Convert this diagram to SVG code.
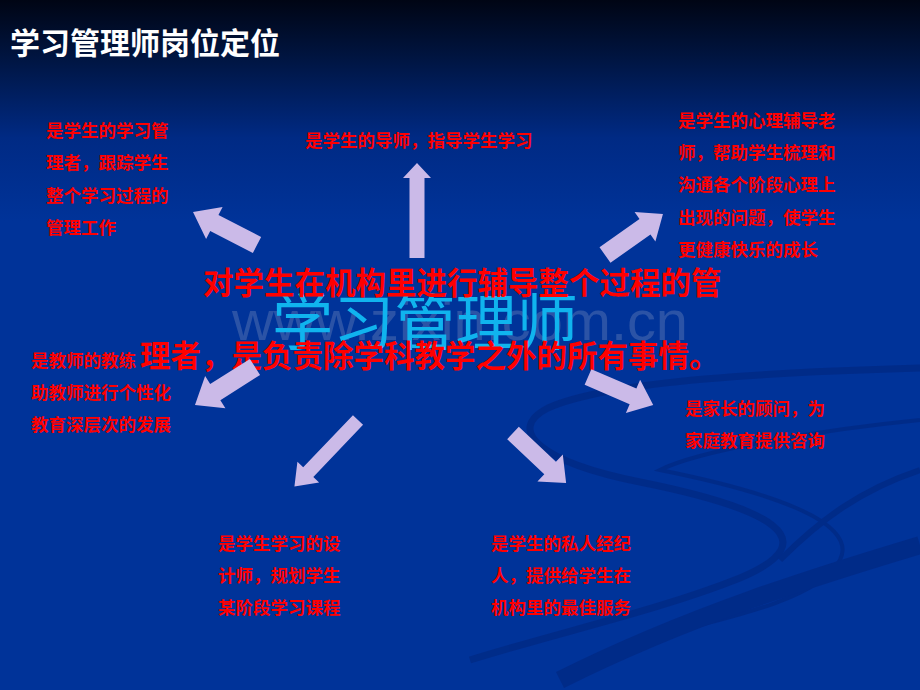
<svg xmlns="http://www.w3.org/2000/svg" width="920" height="690" viewBox="0 0 920 690">
<defs>
<linearGradient id="bg" x1="0" y1="0" x2="0" y2="1">
<stop offset="0" stop-color="#000514"/>
<stop offset="0.08" stop-color="#00143f"/>
<stop offset="0.2" stop-color="#002a84"/>
<stop offset="0.32" stop-color="#003399"/>
<stop offset="1" stop-color="#003399"/>
</linearGradient>
<style>
.t{font-family:"Noto Sans CJK SC","Noto Sans",sans-serif;font-weight:bold;fill:#ff0000;font-size:17.5px}
.big{font-family:"Noto Sans CJK SC","Noto Sans",sans-serif;font-weight:bold;fill:#ff0000;font-size:30.5px}
.arr{fill:#cbbae8}
.sw{fill:none;stroke:#002a85}
</style>
</defs>
<rect width="920" height="690" fill="url(#bg)"/>
<g id="swooshes" opacity="0.8">
<path class="sw" stroke-width="7" d="M920,368 C780,372 610,380 548,408 C505,430 540,462 640,482 C770,508 830,540 740,578 C660,610 560,632 470,660"/>
<path class="sw" stroke-width="4" d="M920,420 C820,430 700,450 660,470 C760,490 860,520 840,560 C820,600 720,620 640,640"/>
<path class="sw" stroke-width="18" d="M920,545 C820,575 690,615 560,680"/>
<path class="sw" stroke-width="6" d="M920,470 C860,490 820,520 780,560"/>
</g>
<text x="10" y="54" font-family="'Noto Sans CJK SC','Noto Sans',sans-serif" font-weight="bold" font-size="30" fill="#ffffff">学习管理师岗位定位</text>
<g id="node-top-left">
<text class="t" x="46" y="136.5">是学生的学习管</text>
<text class="t" x="46" y="169">理者，跟踪学生</text>
<text class="t" x="46" y="202">整个学习过程的</text>
<text class="t" x="46" y="234">管理工作</text>
</g>
<g id="node-top">
<text class="t" x="305" y="146.5">是学生的导师，指导学生学习</text>
</g>
<g id="node-top-right">
<text class="t" x="678" y="126.5">是学生的心理辅导老</text>
<text class="t" x="678" y="158.5">师，帮助学生梳理和</text>
<text class="t" x="678" y="191">沟通各个阶段心理上</text>
<text class="t" x="678" y="223.5">出现的问题，使学生</text>
<text class="t" x="678" y="255.5">更健康快乐的成长</text>
</g>
<g id="node-left">
<text class="t" x="31" y="366.5">是教师的教练</text>
<text class="t" x="31" y="398.5">助教师进行个性化</text>
<text class="t" x="31" y="430.5">教育深层次的发展</text>
</g>
<g id="node-right">
<text class="t" x="685" y="414.5">是家长的顾问，为</text>
<text class="t" x="685" y="446.5">家庭教育提供咨询</text>
</g>
<g id="node-bottom-left">
<text class="t" x="218" y="549.5">是学生学习的设</text>
<text class="t" x="218" y="581.5">计师，规划学生</text>
<text class="t" x="218" y="613.5">某阶段学习课程</text>
</g>
<g id="node-bottom-right">
<text class="t" x="491" y="549.5">是学生的私人经纪</text>
<text class="t" x="491" y="581.5">人，提供给学生在</text>
<text class="t" x="491" y="613.5">机构里的最佳服务</text>
</g>
<text x="232" y="340" font-family="'Liberation Sans',sans-serif" font-size="56" fill="#9aa8c8" fill-opacity="0.28" textLength="456" lengthAdjust="spacingAndGlyphs">www.zixin.com.cn</text>
<g id="center">
<text x="272" y="345" font-family="'Noto Sans CJK SC','Noto Sans',sans-serif" font-size="61" fill="#10b4ee" textLength="306" lengthAdjust="spacingAndGlyphs">学习管理师</text>
<text class="big" x="203" y="294">对学生在机构里进行辅导整个过程的管</text>
<text class="big" x="140" y="367">理者，是负责除学科教学之外的所有事情。</text>
</g>
<g id="connectors">
<polygon class="arr" transform="translate(257,245) rotate(207.3)" points="0,-9 48,-9 48,-18 72,0 48,18 48,9 0,9"/>
<polygon class="arr" transform="translate(417,258) rotate(-90)" points="0,-7.5 80,-7.5 80,-14 95,0 80,14 80,7.5 0,7.5"/>
<polygon class="arr" transform="translate(605,255) rotate(-35.3)" points="0,-9.5 49,-9.5 49,-18 71,0 49,18 49,9.5 0,9.5"/>
<polygon class="arr" transform="translate(255,367) rotate(147.7)" points="0,-9.5 47,-9.5 47,-19 71,0 47,19 47,9.5 0,9.5"/>
<polygon class="arr" transform="translate(588,377) rotate(23.3)" points="0,-8.5 49,-8.5 49,-18 71,0 49,18 49,8.5 0,8.5"/>
<polygon class="arr" transform="translate(358,420) rotate(133.7)" points="0,-7 72,-7 72,-15 92,0 72,15 72,7 0,7"/>
<polygon class="arr" transform="translate(513,433) rotate(43.3)" points="0,-8.5 51,-8.5 51,-18.5 73,0 51,18.5 51,8.5 0,8.5"/>
</g>
</svg>
